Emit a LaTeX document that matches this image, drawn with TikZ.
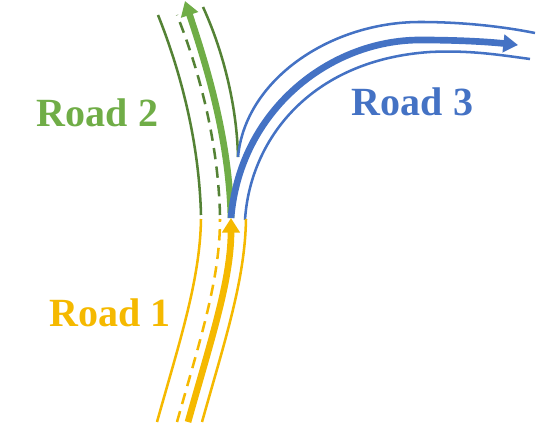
\documentclass[tikz,border=0pt]{standalone}
\usepackage{fontspec}
\setmainfont{Liberation Serif}
\usetikzlibrary{arrows.meta}
\definecolor{roadyellow}{RGB}{245,185,0}
\definecolor{roadgreen}{RGB}{112,173,71}
\definecolor{darkgreen}{RGB}{84,130,53}
\definecolor{roadblue}{RGB}{68,114,196}
\tikzset{every picture/.style={line width=0.75pt},
  edge/.style={line width=1.9pt},
  lane/.style={line width=1.9pt,dash pattern=on 8.5pt off 5.5pt},
  flow/.style={line width=5pt,-{Triangle[length=11pt,width=13pt]}},
  roadlabel/.style={anchor=base,inner sep=0pt,font=\fontsize{30}{36}\selectfont\bfseries}}

\begin{document}
\begin{tikzpicture}[x=0.75pt,y=0.75pt,yscale=-1,xscale=1]
\useasboundingbox (0,0) rectangle (536,427);
\coordinate (split) at (231,218);

%Curve Lines: road 2
\draw [edge,color=darkgreen] (201,215) .. controls (199,140) and (180,70) .. (158,15) ;
\draw [lane,color=darkgreen] (220,215) .. controls (218,140) and (199,70) .. (177,15) ;
\draw [edge,color=darkgreen] (238,157) .. controls (237,110) and (225,55) .. (203,7) ;
\draw [flow,color=roadgreen] (split) .. controls (229,140) and (208,70) .. (185,1) ;

%Curve Lines: road 3
\draw [edge,color=roadblue] (238,157) .. controls (245,80) and (330,22) .. (420,22) .. controls (460,22) and (500,26) .. (535,33) ;
\draw [edge,color=roadblue] (245,220) .. controls (250,140) and (310,60) .. (430,52) .. controls (470,50) and (500,55) .. (530,59) ;
\draw [flow,color=roadblue] (split) .. controls (240,110) and (330,40) .. (420,40) .. controls (460,40) and (490,42) .. (518,45) ;

%Curve Lines: road 1
\draw [edge,color=roadyellow] (157,422) .. controls (180,340) and (200,280) .. (201,219) ;
\draw [lane,color=roadyellow] (177,422) .. controls (200,340) and (220,280) .. (220,219) ;
\draw [edge,color=roadyellow] (202,422) .. controls (225,340) and (245,280) .. (246,219) ;
\draw [flow,color=roadyellow] (188,422) .. controls (211,340) and (231,280) .. (split) ;

% Text Node
\node [roadlabel,color=roadgreen] (road2) at (97.5,127) {Road 2};
% Text Node
\node [roadlabel,color=roadblue] (road3) at (412.5,116) {Road 3};
% Text Node
\node [roadlabel,color=roadyellow] (road1) at (110,327) {Road 1};
\end{tikzpicture}
\end{document}
